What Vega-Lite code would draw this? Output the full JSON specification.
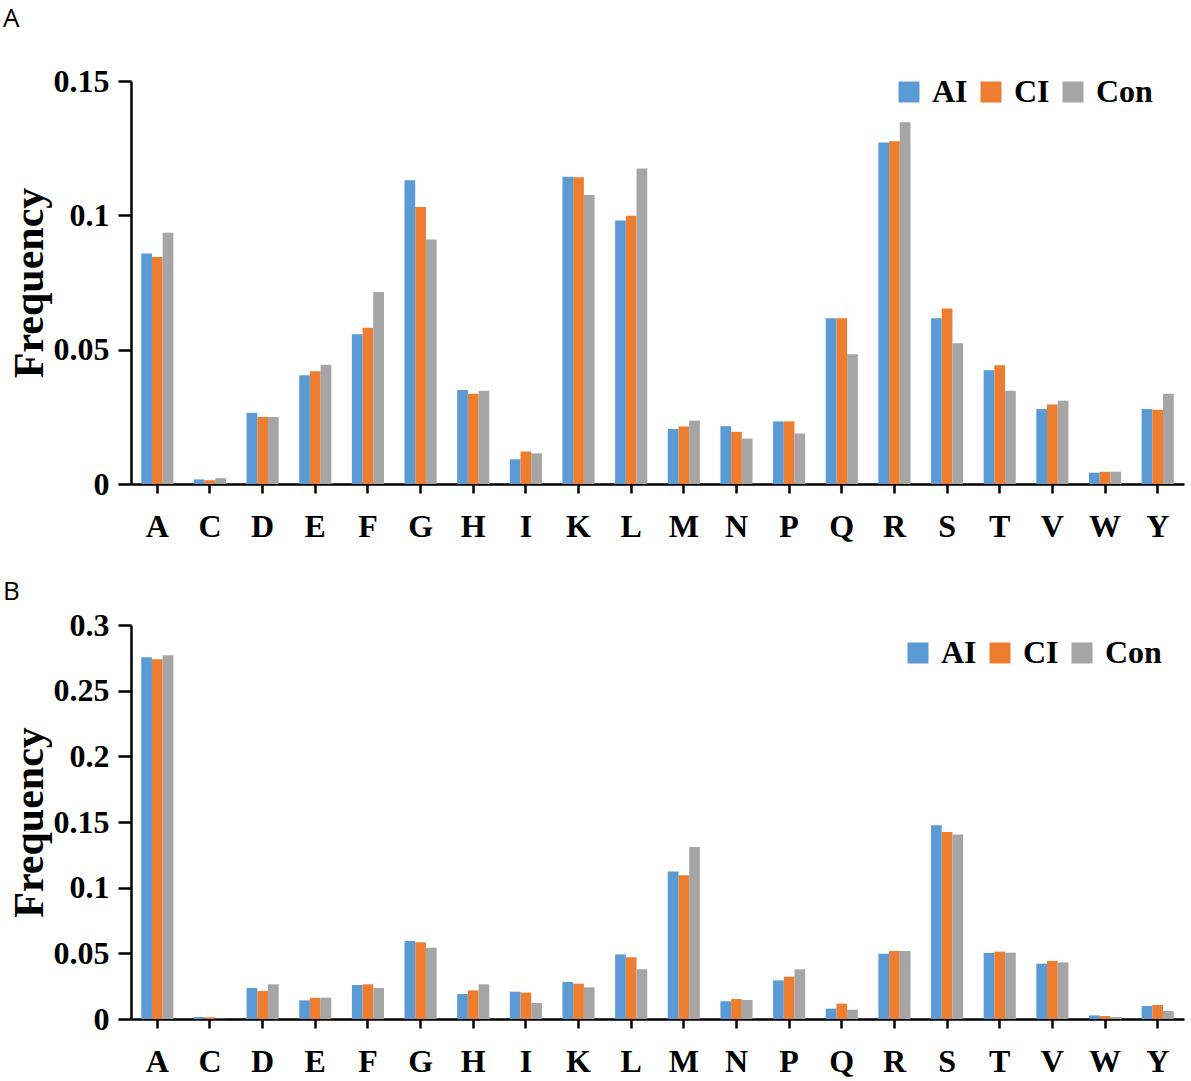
{
  "$schema": "https://vega.github.io/schema/vega-lite/v6.json",
  "background": "white",
  "padding": {"left": 3, "top": 6, "right": 4, "bottom": 4},
  "spacing": 37,
  "resolve": {"scale": {"color": "independent"}, "legend": {"color": "independent"}},
  "config": {
    "view": {"stroke": null},
    "font": "Liberation Serif",
    "axis": {
      "labelFont": "Liberation Serif",
      "labelFontWeight": "bold",
      "labelColor": "black",
      "labelFontSize": 32,
      "titleFont": "Liberation Serif",
      "titleFontWeight": "bold",
      "titleColor": "black",
      "domainColor": "black",
      "domainWidth": 2.5,
      "tickColor": "black",
      "tickWidth": 2.5,
      "grid": false
    },
    "axisX": {"labelAngle": 0, "tickSize": 9, "labelPadding": 18, "title": null},
    "axisY": {"tickSize": 13, "labelPadding": 9, "titleFontSize": 42, "titlePadding": 2},
    "legend": {
      "orient": "none",
      "direction": "horizontal",
      "title": null,
      "symbolType": "square",
      "symbolSize": 441,
      "symbolStrokeWidth": 0,
      "labelFont": "Liberation Serif",
      "labelFontSize": 32,
      "labelFontWeight": "bold",
      "labelColor": "black",
      "labelOffset": 7,
      "columnPadding": 7,
      "padding": 0
    },
    "title": {
      "anchor": "start",
      "frame": "bounds",
      "font": "Open Sans",
      "fontSize": 26,
      "fontWeight": "normal",
      "color": "black",
      "dx": -5
    }
  },
  "datasets": {
    "panelA": [
      {"aa": "A", "g": "AI", "v": 0.0858}, {"aa": "A", "g": "CI", "v": 0.0845}, {"aa": "A", "g": "Con", "v": 0.0935},
      {"aa": "C", "g": "AI", "v": 0.0017}, {"aa": "C", "g": "CI", "v": 0.0014}, {"aa": "C", "g": "Con", "v": 0.0022},
      {"aa": "D", "g": "AI", "v": 0.0265}, {"aa": "D", "g": "CI", "v": 0.0249}, {"aa": "D", "g": "Con", "v": 0.0249},
      {"aa": "E", "g": "AI", "v": 0.0405}, {"aa": "E", "g": "CI", "v": 0.0420}, {"aa": "E", "g": "Con", "v": 0.0444},
      {"aa": "F", "g": "AI", "v": 0.0557}, {"aa": "F", "g": "CI", "v": 0.0582}, {"aa": "F", "g": "Con", "v": 0.0715},
      {"aa": "G", "g": "AI", "v": 0.1131}, {"aa": "G", "g": "CI", "v": 0.1031}, {"aa": "G", "g": "Con", "v": 0.0910},
      {"aa": "H", "g": "AI", "v": 0.0350}, {"aa": "H", "g": "CI", "v": 0.0336}, {"aa": "H", "g": "Con", "v": 0.0347},
      {"aa": "I", "g": "AI", "v": 0.0092}, {"aa": "I", "g": "CI", "v": 0.0121}, {"aa": "I", "g": "Con", "v": 0.0114},
      {"aa": "K", "g": "AI", "v": 0.1144}, {"aa": "K", "g": "CI", "v": 0.1142}, {"aa": "K", "g": "Con", "v": 0.1076},
      {"aa": "L", "g": "AI", "v": 0.0981}, {"aa": "L", "g": "CI", "v": 0.0998}, {"aa": "L", "g": "Con", "v": 0.1174},
      {"aa": "M", "g": "AI", "v": 0.0205}, {"aa": "M", "g": "CI", "v": 0.0214}, {"aa": "M", "g": "Con", "v": 0.0236},
      {"aa": "N", "g": "AI", "v": 0.0215}, {"aa": "N", "g": "CI", "v": 0.0194}, {"aa": "N", "g": "Con", "v": 0.0169},
      {"aa": "P", "g": "AI", "v": 0.0233}, {"aa": "P", "g": "CI", "v": 0.0233}, {"aa": "P", "g": "Con", "v": 0.0188},
      {"aa": "Q", "g": "AI", "v": 0.0617}, {"aa": "Q", "g": "CI", "v": 0.0617}, {"aa": "Q", "g": "Con", "v": 0.0483},
      {"aa": "R", "g": "AI", "v": 0.1271}, {"aa": "R", "g": "CI", "v": 0.1276}, {"aa": "R", "g": "Con", "v": 0.1346},
      {"aa": "S", "g": "AI", "v": 0.0617}, {"aa": "S", "g": "CI", "v": 0.0653}, {"aa": "S", "g": "Con", "v": 0.0524},
      {"aa": "T", "g": "AI", "v": 0.0423}, {"aa": "T", "g": "CI", "v": 0.0442}, {"aa": "T", "g": "Con", "v": 0.0347},
      {"aa": "V", "g": "AI", "v": 0.0279}, {"aa": "V", "g": "CI", "v": 0.0296}, {"aa": "V", "g": "Con", "v": 0.0310},
      {"aa": "W", "g": "AI", "v": 0.0042}, {"aa": "W", "g": "CI", "v": 0.0045}, {"aa": "W", "g": "Con", "v": 0.0046},
      {"aa": "Y", "g": "AI", "v": 0.0279}, {"aa": "Y", "g": "CI", "v": 0.0276}, {"aa": "Y", "g": "Con", "v": 0.0336}
    ],
    "panelB": [
      {"aa": "A", "g": "AI", "v": 0.2754}, {"aa": "A", "g": "CI", "v": 0.2739}, {"aa": "A", "g": "Con", "v": 0.2769},
      {"aa": "C", "g": "AI", "v": 0.0015}, {"aa": "C", "g": "CI", "v": 0.0013}, {"aa": "C", "g": "Con", "v": 0.0002},
      {"aa": "D", "g": "AI", "v": 0.0236}, {"aa": "D", "g": "CI", "v": 0.0213}, {"aa": "D", "g": "Con", "v": 0.0264},
      {"aa": "E", "g": "AI", "v": 0.0142}, {"aa": "E", "g": "CI", "v": 0.0162}, {"aa": "E", "g": "Con", "v": 0.0162},
      {"aa": "F", "g": "AI", "v": 0.0259}, {"aa": "F", "g": "CI", "v": 0.0264}, {"aa": "F", "g": "Con", "v": 0.0236},
      {"aa": "G", "g": "AI", "v": 0.0594}, {"aa": "G", "g": "CI", "v": 0.0584}, {"aa": "G", "g": "Con", "v": 0.0543},
      {"aa": "H", "g": "AI", "v": 0.0190}, {"aa": "H", "g": "CI", "v": 0.0218}, {"aa": "H", "g": "Con", "v": 0.0264},
      {"aa": "I", "g": "AI", "v": 0.0208}, {"aa": "I", "g": "CI", "v": 0.0201}, {"aa": "I", "g": "Con", "v": 0.0122},
      {"aa": "K", "g": "AI", "v": 0.0282}, {"aa": "K", "g": "CI", "v": 0.0269}, {"aa": "K", "g": "Con", "v": 0.0241},
      {"aa": "L", "g": "AI", "v": 0.0492}, {"aa": "L", "g": "CI", "v": 0.0470}, {"aa": "L", "g": "Con", "v": 0.0378},
      {"aa": "M", "g": "AI", "v": 0.1124}, {"aa": "M", "g": "CI", "v": 0.1094}, {"aa": "M", "g": "Con", "v": 0.1310},
      {"aa": "N", "g": "AI", "v": 0.0135}, {"aa": "N", "g": "CI", "v": 0.0152}, {"aa": "N", "g": "Con", "v": 0.0145},
      {"aa": "P", "g": "AI", "v": 0.0294}, {"aa": "P", "g": "CI", "v": 0.0322}, {"aa": "P", "g": "Con", "v": 0.0378},
      {"aa": "Q", "g": "AI", "v": 0.0079}, {"aa": "Q", "g": "CI", "v": 0.0117}, {"aa": "Q", "g": "Con", "v": 0.0071},
      {"aa": "R", "g": "AI", "v": 0.0497}, {"aa": "R", "g": "CI", "v": 0.0518}, {"aa": "R", "g": "Con", "v": 0.0518},
      {"aa": "S", "g": "AI", "v": 0.1475}, {"aa": "S", "g": "CI", "v": 0.1424}, {"aa": "S", "g": "Con", "v": 0.1404},
      {"aa": "T", "g": "AI", "v": 0.0503}, {"aa": "T", "g": "CI", "v": 0.0513}, {"aa": "T", "g": "Con", "v": 0.0505},
      {"aa": "V", "g": "AI", "v": 0.0421}, {"aa": "V", "g": "CI", "v": 0.0442}, {"aa": "V", "g": "Con", "v": 0.0431},
      {"aa": "W", "g": "AI", "v": 0.0028}, {"aa": "W", "g": "CI", "v": 0.0023}, {"aa": "W", "g": "Con", "v": 0.0015},
      {"aa": "Y", "g": "AI", "v": 0.0099}, {"aa": "Y", "g": "CI", "v": 0.0107}, {"aa": "Y", "g": "Con", "v": 0.0061}
    ]
  },
  "vconcat": [
    {
      "title": {"text": "A", "offset": 33},
      "width": 1053,
      "height": 403,
      "data": {"name": "panelA"},
      "mark": {"type": "bar"},
      "encoding": {
        "x": {"field": "aa", "type": "nominal", "sort": null, "scale": {"paddingInner": 0.39, "paddingOuter": 0.195}},
        "xOffset": {"field": "g", "type": "nominal", "sort": ["AI", "CI", "Con"]},
        "y": {
          "field": "v",
          "type": "quantitative",
          "title": "Frequency",
          "scale": {"domain": [0, 0.15]},
          "axis": {"values": [0, 0.05, 0.1, 0.15], "format": ".2~f"}
        },
        "color": {
          "field": "g",
          "type": "nominal",
          "scale": {"domain": ["AI", "CI", "Con"], "range": ["#5B9BD5", "#ED7D31", "#A5A5A5"]},
          "legend": {"legendX": 762, "legendY": -5}
        }
      }
    },
    {
      "title": {"text": "B", "offset": 4},
      "width": 1053,
      "height": 394,
      "data": {"name": "panelB"},
      "mark": {"type": "bar"},
      "encoding": {
        "x": {"field": "aa", "type": "nominal", "sort": null, "scale": {"paddingInner": 0.39, "paddingOuter": 0.195}},
        "xOffset": {"field": "g", "type": "nominal", "sort": ["AI", "CI", "Con"]},
        "y": {
          "field": "v",
          "type": "quantitative",
          "title": "Frequency",
          "scale": {"domain": [0, 0.3]},
          "axis": {"values": [0, 0.05, 0.1, 0.15, 0.2, 0.25, 0.3], "format": ".2~f"}
        },
        "color": {
          "field": "g",
          "type": "nominal",
          "scale": {"domain": ["AI", "CI", "Con"], "range": ["#5B9BD5", "#ED7D31", "#A5A5A5"]},
          "legend": {"legendX": 771, "legendY": 12}
        }
      }
    }
  ]
}
